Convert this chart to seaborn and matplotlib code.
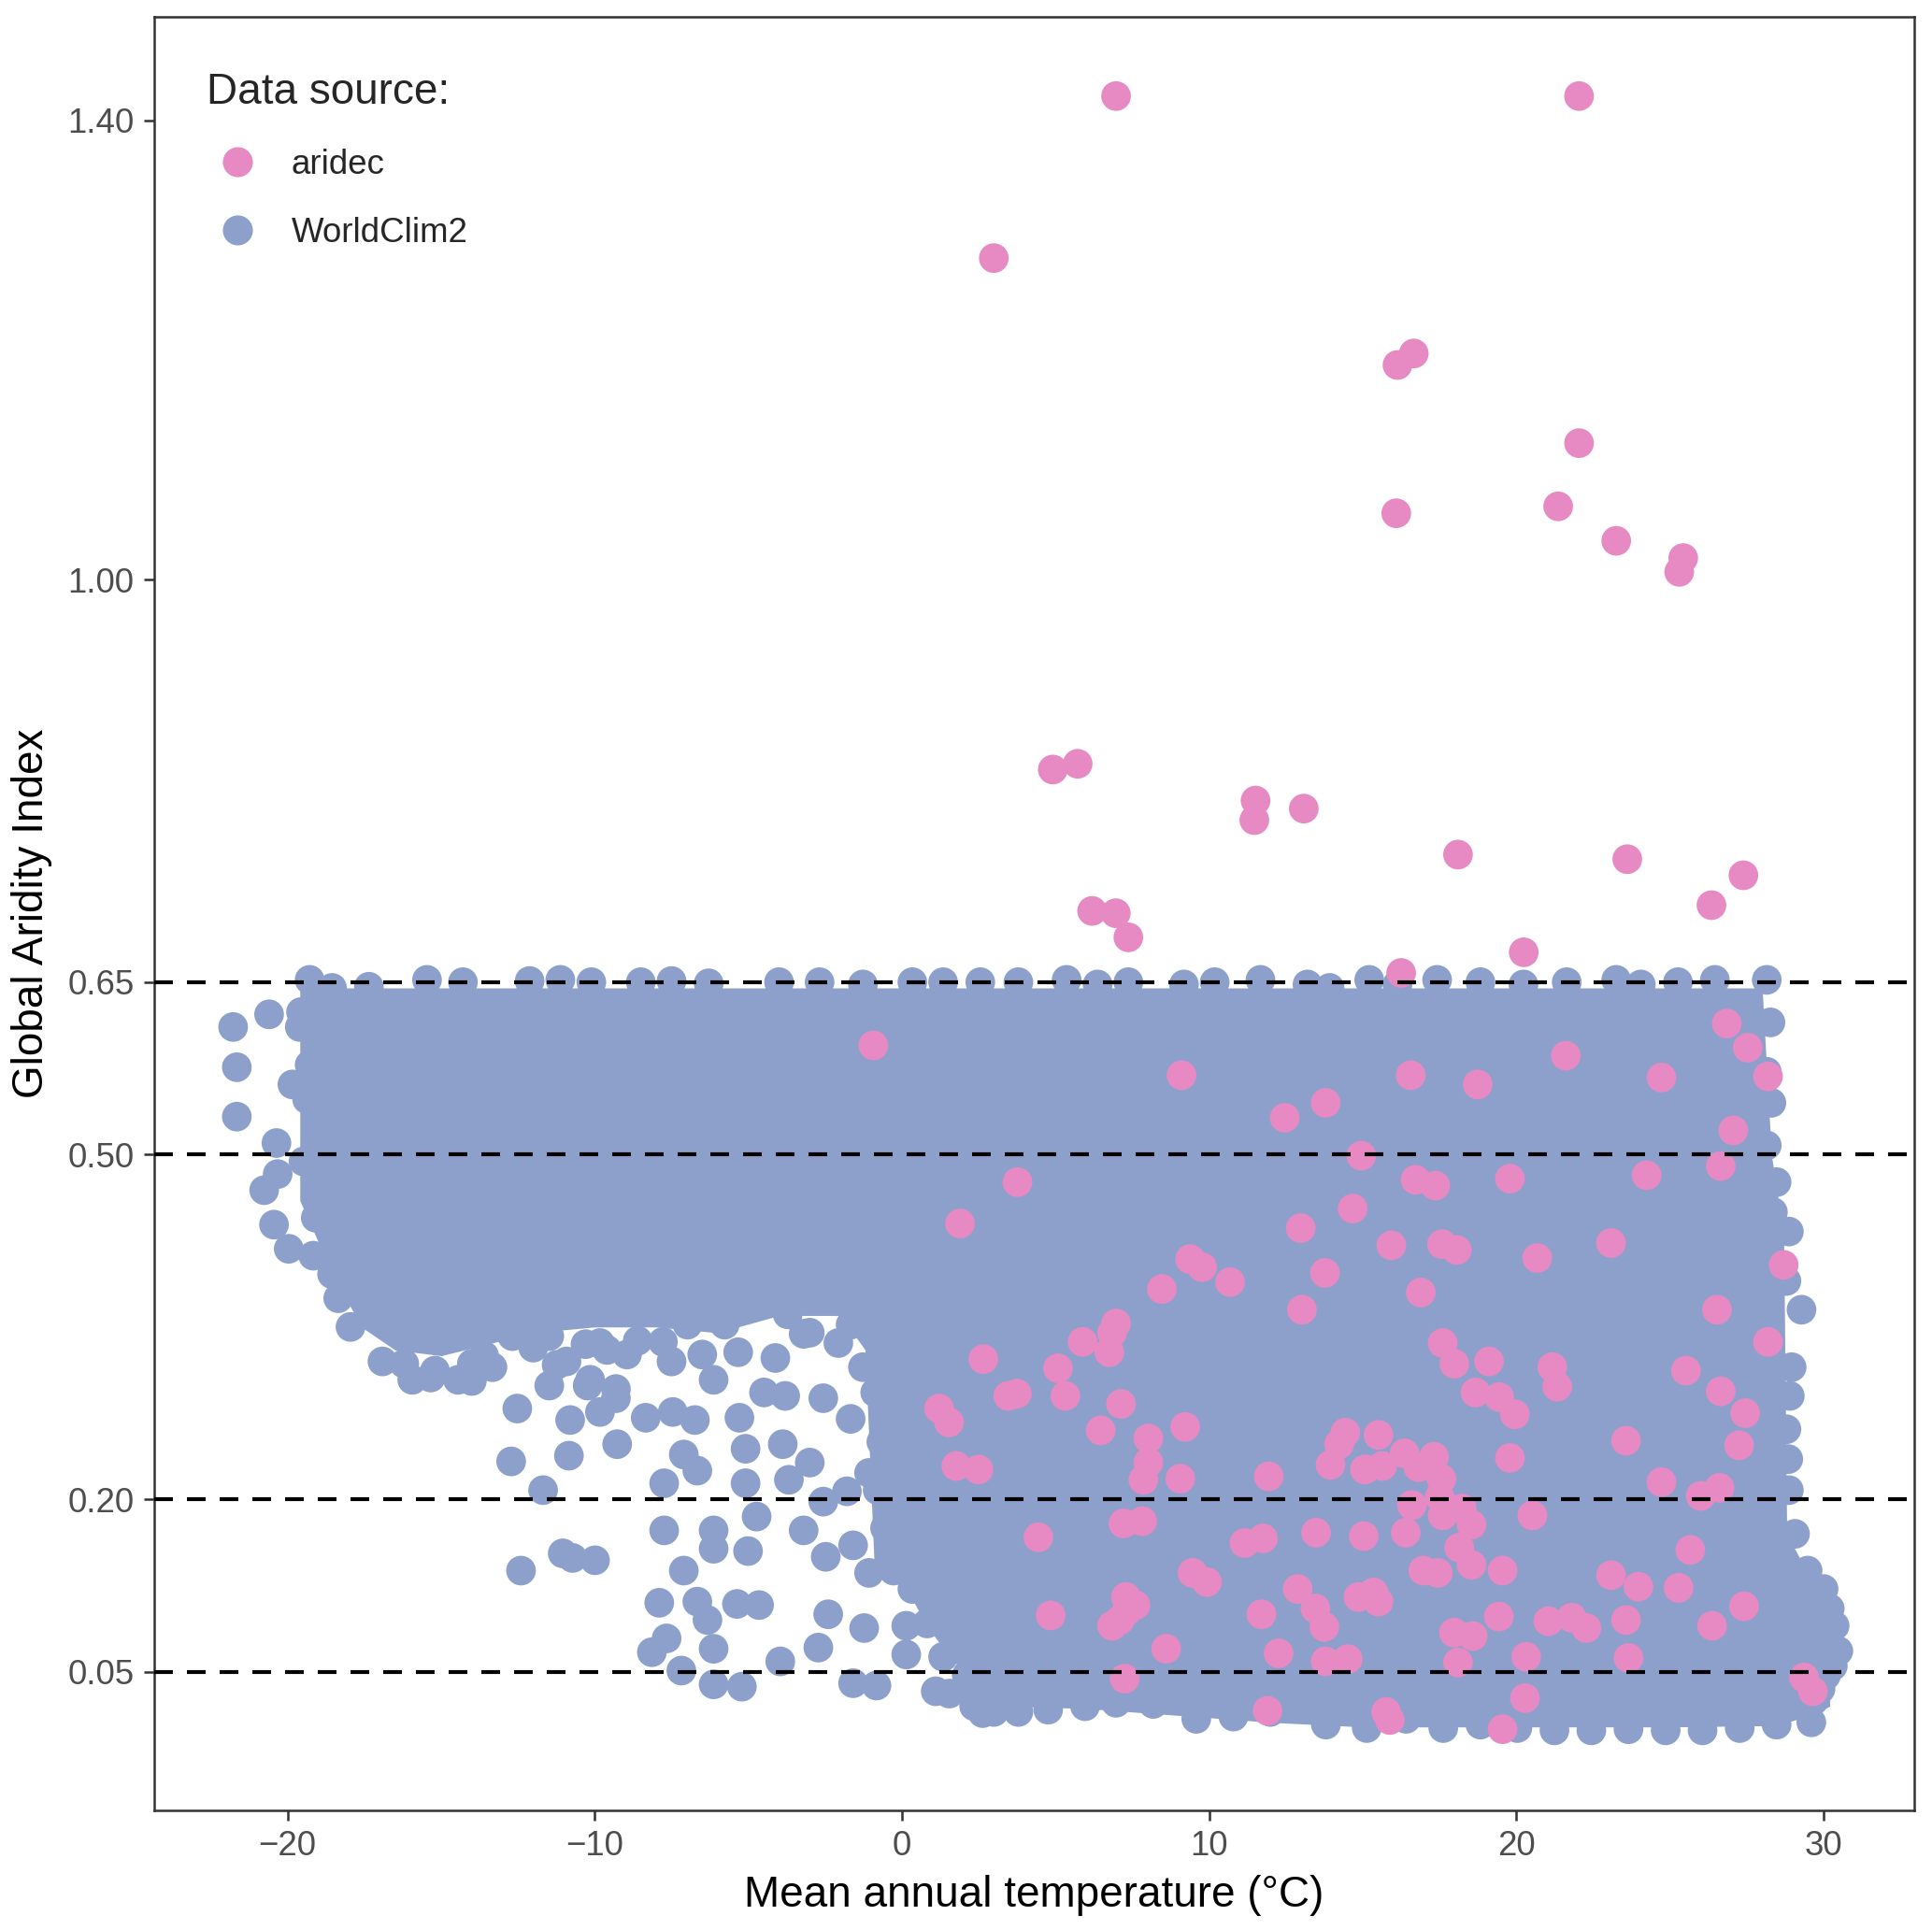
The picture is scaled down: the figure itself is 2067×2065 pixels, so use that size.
import warnings
warnings.filterwarnings("ignore")

import numpy as np
import pandas as pd
import matplotlib
matplotlib.use("Agg")
import matplotlib.pyplot as plt
from matplotlib.lines import Line2D
import seaborn as sns

# ---------------- data ----------------
# aridec points (mean annual temperature, global aridity index)
ari_temp = [6.97, 22.04, 2.99, 16.13, 16.66, 22.04, 16.09, 21.36, 23.25, 25.43, 25.30,
            4.91, 5.72, 11.51, 11.47, 13.08, 18.10, 23.61, 27.39, 6.19, 6.96, 7.37,
            26.35, 20.24, 16.25,
            -0.93, 9.10, 26.85, 27.53, 28.19, 24.72, 21.61, 18.74, 16.56, 13.79, 12.46,
            27.06, 26.65, 14.95, 24.24, 19.79, 16.72, 17.36, 3.76, 14.67, 1.89, 12.98,
            23.08, 15.93, 17.58, 18.06, 28.70, 20.68, 9.38, 9.77, 10.68, 8.46, 13.77,
            16.89, 13.02, 26.53, 6.97, 6.84, 5.88, 28.19, 6.75, 17.60, 2.65, 17.98,
            19.11, 5.08, 21.17, 25.52, 21.33, 26.65, 18.67, 3.46, 3.74, 5.32, 19.44,
            7.13, 1.21, 1.53, 19.95, 27.45, 9.22, 6.47, 27.25, 14.43, 15.51, 23.57,
            8.02, 14.23, 16.36, 17.32, 13.95, 8.02, 1.77, 2.49, 15.63, 15.07, 19.79,
            16.81, 17.56, 11.94, 7.86, 9.06, 24.72, 26.00, 26.61, 17.50, 16.60, 18.22,
            17.60, 20.52, 18.54, 4.44, 7.21, 7.82, 13.48, 15.03, 16.40, 11.15, 11.75,
            18.14, 25.66, 18.54, 16.97, 19.55, 17.44, 23.08, 9.46, 9.93, 23.97, 12.88,
            25.28, 14.86, 15.35, 15.51, 7.29, 7.33, 7.09, 6.84, 7.60, 27.41, 4.84,
            11.70, 13.46, 19.43, 21.04, 21.80, 22.28, 23.57, 26.37, 13.75, 17.97,
            18.58, 8.60, 12.26, 13.79, 14.51, 20.32, 23.65, 18.10, 7.25, 29.36, 29.65,
            20.28, 11.90, 15.76, 15.88, 19.55]
ari_ai = [1.421, 1.421, 1.280, 1.187, 1.197, 1.119, 1.058, 1.064, 1.034, 1.019, 1.007,
          0.835, 0.840, 0.808, 0.791, 0.801, 0.761, 0.757, 0.743, 0.712, 0.710, 0.689,
          0.717, 0.676, 0.658,
          0.595, 0.569, 0.614, 0.593, 0.568, 0.567, 0.586, 0.561, 0.569, 0.545, 0.532,
          0.521, 0.490, 0.499, 0.482, 0.479, 0.478, 0.473, 0.476, 0.453, 0.440, 0.436,
          0.423, 0.421, 0.422, 0.417, 0.404, 0.410, 0.409, 0.402, 0.389, 0.383, 0.397,
          0.380, 0.365, 0.365, 0.353, 0.345, 0.337, 0.337, 0.328, 0.336, 0.322, 0.318,
          0.320, 0.314, 0.315, 0.312, 0.298, 0.294, 0.293, 0.290, 0.292, 0.290, 0.289,
          0.283, 0.279, 0.267, 0.274, 0.275, 0.263, 0.260, 0.247, 0.258, 0.256, 0.251,
          0.253, 0.248, 0.240, 0.237, 0.230, 0.232, 0.229, 0.226, 0.229, 0.226, 0.236,
          0.228, 0.218, 0.220, 0.217, 0.218, 0.215, 0.203, 0.210, 0.202, 0.195, 0.192,
          0.186, 0.186, 0.178, 0.167, 0.179, 0.181, 0.171, 0.168, 0.171, 0.162, 0.166,
          0.158, 0.156, 0.143, 0.138, 0.138, 0.136, 0.134, 0.136, 0.128, 0.124, 0.122,
          0.123, 0.115, 0.119, 0.111, 0.115, 0.103, 0.095, 0.090, 0.108, 0.107, 0.099,
          0.100, 0.105, 0.098, 0.094, 0.097, 0.088, 0.095, 0.090, 0.089, 0.084,
          0.081, 0.070, 0.066, 0.059, 0.061, 0.063, 0.062, 0.058, 0.044, 0.045, 0.033,
          0.027, 0.016, 0.015, 0.008, 0.000]

# WorldClim2: the dense core of the cloud, as lower / upper envelope per temperature
core_temp = [-19.6, -18.6, -17.6, -16.5, -15.0, -13.5, -12.0, -10.0, -8.0, -6.0, -4.0,
             -2.0, -1.2, -0.9, 0.0, 0.8, 1.5, 2.5, 3.5, 6.0, 9.0, 12.0, 15.0, 20.0,
             25.0, 28.0, 28.3, 28.7, 28.8, 29.6, 30.2]
core_lo = [0.46, 0.40, 0.35, 0.33, 0.325, 0.335, 0.345, 0.35, 0.35, 0.345, 0.36,
           0.36, 0.33, 0.14, 0.13, 0.09, 0.065, 0.035, 0.02, 0.018, 0.012, 0.006, 0.002,
           0.002, 0.002, 0.003, 0.004, 0.005, 0.006, 0.012, 0.02]
core_hi = [0.645, 0.645, 0.645, 0.645, 0.645, 0.645, 0.645, 0.645, 0.645, 0.645, 0.645,
           0.645, 0.645, 0.645, 0.645, 0.645, 0.645, 0.645, 0.645, 0.645, 0.645, 0.645,
           0.645, 0.645, 0.645, 0.645, 0.50, 0.43, 0.17, 0.13, 0.08]

# WorldClim2: single points on the rim of the cloud and outside it
wc_top_temp = [-19.28, -18.55, -17.35, -15.46, -14.29, -12.12, -11.12, -10.11, -8.50,
               -7.50, -6.29, -4.00, -2.68, -1.27, 0.34, 1.34, 2.55, 3.79, 5.36, 6.37,
               7.37, 9.18, 10.18, 11.67, 13.20, 13.92, 15.21, 16.13, 17.42, 18.83, 20.23,
               21.64, 23.25, 24.05, 25.26, 26.46, 28.15]
wc_top_ai = [0.652, 0.645, 0.646, 0.652, 0.650, 0.651, 0.652, 0.650, 0.650, 0.651,
             0.649, 0.650, 0.650, 0.648, 0.650, 0.650, 0.650, 0.650, 0.652, 0.648,
             0.650, 0.648, 0.650, 0.652, 0.648, 0.645, 0.652, 0.648, 0.652, 0.650,
             0.648, 0.650, 0.652, 0.648, 0.650, 0.652, 0.652]

wc_left_temp = [-21.77, -20.60, -21.65, -21.65, -20.76, -20.44, -20.32, -20.36, -19.96,
                -19.16, -19.08, -18.55, -18.35, -17.95, -19.56, -19.60, -18.87, -19.28,
                -19.84, -19.36, -18.79, -19.48]
wc_left_ai = [0.611, 0.622, 0.576, 0.533, 0.469, 0.439, 0.483, 0.510, 0.418,
              0.412, 0.445, 0.396, 0.375, 0.350, 0.624, 0.611, 0.602, 0.578,
              0.561, 0.548, 0.521, 0.494]

# lower rim of the cold block and the left rim of the warm block
wc_rim_temp = [-12.68, -11.48, -5.33, -4.12, -7.50, -6.50, -2.07, -1.27, -1.67, -0.87,
               -0.67, -0.79, -0.55, -0.27, 0.34, 0.82, 1.34, 2.15, 2.75, 1.14,
               -16.2, -15.2, -14.0, -13.6, -9.6, -8.6, -3.0, -10.3, -12.0]
wc_rim_ai = [0.342, 0.342, 0.328, 0.323, 0.320, 0.326, 0.336, 0.315, 0.352, 0.293,
             0.250, 0.208, 0.175, 0.138, 0.122, 0.092, 0.063, 0.041, 0.025, 0.111,
             0.318, 0.312, 0.318, 0.325, 0.330, 0.338, 0.345, 0.335, 0.332]

wc_sparse_temp = [-16.91, -15.94, -14.45, -14.00, -13.33, -15.34, -12.52, -11.48, -11.24,
                  -10.92, -10.15, -10.23, -9.83, -9.31, -8.95, -10.80, -9.83, -9.31,
                  -9.27, -8.34, -7.46, -6.74, -7.78, -6.98, -6.13, -5.77, -5.29, -4.49,
                  -3.80, -5.09, -3.88, -3.72, -3.20, -2.56, -1.67, -12.72, -10.84,
                  -11.68, -7.10, -6.66, -7.74, -5.09, -3.68, -3.00, -2.56, -1.79, -1.07,
                  -7.74, -6.13, -4.73, -3.20, -6.13, -5.01, -2.48, -1.59, -0.02, -12.40,
                  -11.04, -10.72, -9.99, -7.10, -1.07, -7.90, -6.66, -5.37, -4.65, -6.33,
                  -2.40, -1.23, 0.14, -8.14, -7.66, -7.18, -6.13, -6.13, -5.21, -3.96,
                  -2.72, -1.59, -0.83, 0.14, 1.10, 2.11, 2.63, 1.54, 2.35]
wc_sparse_ai = [0.320, 0.304, 0.304, 0.303, 0.315, 0.306, 0.279, 0.299, 0.317,
                0.320, 0.304, 0.299, 0.336, 0.296, 0.326, 0.269, 0.276, 0.288,
                0.248, 0.271, 0.276, 0.269, 0.337, 0.352, 0.304, 0.352, 0.271, 0.293,
                0.290, 0.244, 0.248, 0.361, 0.344, 0.288, 0.270, 0.233, 0.238,
                0.208, 0.239, 0.225, 0.214, 0.214, 0.217, 0.232, 0.198, 0.207, 0.223,
                0.173, 0.173, 0.185, 0.173, 0.157, 0.155, 0.150, 0.160, 0.152, 0.138,
                0.153, 0.149, 0.147, 0.138, 0.136, 0.110, 0.111, 0.109, 0.108, 0.095,
                0.100, 0.088, 0.090, 0.067, 0.079, 0.051, 0.070, 0.039, 0.037, 0.059,
                0.071, 0.040, 0.038, 0.065, 0.033, 0.047, 0.014, 0.031, 0.020]

wc_bottom_temp = [2.99, 3.79, 4.76, 5.96, 6.97, 8.18, 9.58, 10.79, 11.99, 13.80, 15.13,
                  16.41, 17.62, 18.83, 20.03, 21.24, 22.44, 23.65, 24.86, 26.06, 27.27,
                  28.47, 29.60]
wc_bottom_ai = [0.015, 0.015, 0.017, 0.020, 0.023, 0.022, 0.009, 0.011, 0.015, 0.004,
                0.001, 0.009, 0.001, 0.004, 0.001, -0.001, -0.001, 0.000, -0.001,
                -0.001, 0.001, 0.004, 0.006]

wc_right_temp = [28.87, 29.28, 28.79, 28.96, 28.79, 28.87, 29.07, 29.48, 30.00, 30.36,
                 30.48, 30.08, 29.68, 28.27, 28.15, 28.15, 28.47, 28.30, 28.35, 28.90,
                 28.85, 30.20, 30.30, 29.90]
wc_right_ai = [0.433, 0.365, 0.390, 0.315, 0.261, 0.208, 0.170, 0.138, 0.122, 0.090,
               0.068, 0.047, 0.025, 0.615, 0.572, 0.508, 0.476, 0.545, 0.450, 0.290,
               0.235, 0.105, 0.055, 0.035]

threshold_lines = [0.05, 0.20, 0.50, 0.65]
y_ticks = [0.05, 0.20, 0.50, 0.65, 1.00, 1.40]
y_tick_labels = ["0.05", "0.20", "0.50", "0.65", "1.00", "1.40"]
x_ticks = [-20, -10, 0, 10, 20, 30]

colors = {"aridec": "#E78AC3", "WorldClim2": "#8DA0CB"}

# ---------------- build the data frame ----------------
wc_temp = (wc_top_temp + wc_left_temp + wc_rim_temp + wc_sparse_temp
           + wc_bottom_temp + wc_right_temp)
wc_ai = wc_top_ai + wc_left_ai + wc_rim_ai + wc_sparse_ai + wc_bottom_ai + wc_right_ai

df = pd.concat([
    pd.DataFrame({"temp": wc_temp, "ai": wc_ai, "source": "WorldClim2"}),
    pd.DataFrame({"temp": ari_temp, "ai": ari_ai, "source": "aridec"}),
], ignore_index=True)

# ---------------- plot ----------------
sns.set_style("white")
plt.rcParams["font.family"] = ["Liberation Sans", "DejaVu Sans"]

fig = plt.figure(figsize=(2067 / 300, 2065 / 300), dpi=300)
ax = fig.add_axes([0.0798, 0.0620, 0.9110, 0.9295])

# dense core of the WorldClim2 cloud
ax.fill_between(core_temp, core_lo, core_hi, color=colors["WorldClim2"], lw=0, zorder=1)

sns.scatterplot(data=df, x="temp", y="ai", hue="source",
                hue_order=["aridec", "WorldClim2"], palette=colors,
                s=58, linewidth=0, alpha=1, legend=False, ax=ax, zorder=2)

for v in threshold_lines:
    ax.axhline(v, color="black", lw=1.0, ls=(0, (4.8, 3.6)), zorder=3)

ax.set_xlim(-24.34, 32.95)
ax.set_ylim(-0.0706, 1.4903)
ax.set_xticks(x_ticks)
ax.set_xticklabels([str(t).replace("-", "\u2212") for t in x_ticks])
ax.set_yticks(y_ticks)
ax.set_yticklabels(y_tick_labels)

ax.tick_params(axis="both", which="major", length=2.75, width=0.6, color="#333333",
               labelsize=8.8, labelcolor="#4D4D4D", pad=2.4, direction="out",
               bottom=True, left=True)
for sp in ax.spines.values():
    sp.set_color("#333333")
    sp.set_linewidth(0.6)

ax.set_xlabel("Mean annual temperature (\u00b0C)", fontsize=11, color="black", labelpad=3)
ax.set_ylabel("Global Aridity Index", fontsize=11, color="black", labelpad=4)

handles = [Line2D([], [], ls="", marker="o", markersize=7.7, markeredgewidth=0,
                  color=colors[k]) for k in ["aridec", "WorldClim2"]]
leg = ax.legend(handles, ["aridec", "WorldClim2"], title="Data source:",
                loc="upper left", bbox_to_anchor=(0.0298, 0.969), frameon=False,
                fontsize=8.8, title_fontsize=11, handlelength=1.8, handletextpad=0.68,
                labelspacing=1.04, borderpad=0, borderaxespad=0, alignment="left")

fig.savefig("out.png", dpi=300)
